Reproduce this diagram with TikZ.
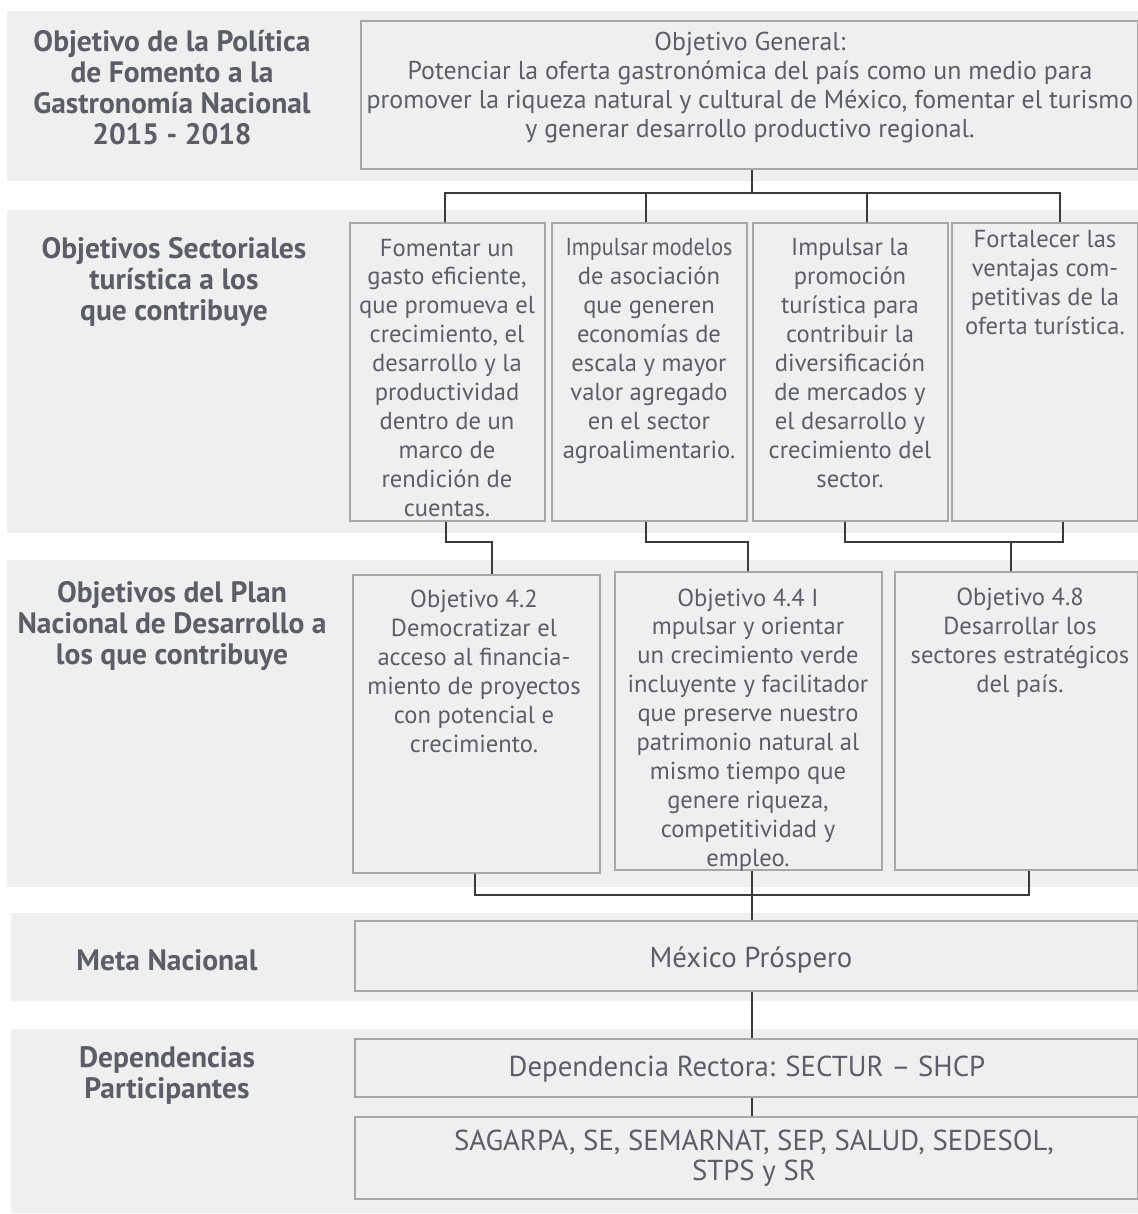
\documentclass[tikz,border=0pt]{standalone}
\usepackage{fontspec}
\setmainfont{PT Sans}
\usepackage{tikz}
\usetikzlibrary{fit}

\definecolor{bandgray}{HTML}{EFEFEF}
\definecolor{boxline}{HTML}{A8A8A8}
\definecolor{inkgray}{HTML}{5B5E66}
\definecolor{linkgray}{HTML}{3A3A3A}

\newcommand{\bodyfont}{\fontsize{14}{16.44}\selectfont}
\newcommand{\genfont}{\fontsize{14.7}{16.44}\selectfont}
\newcommand{\bigfont}{\fontsize{16.4}{17}\selectfont}
\newcommand{\headfont}{\fontsize{16.8}{17.6}\selectfont\bfseries}

\tikzset{
	band/.style={fill=bandgray, draw=none},
	box/.style={draw=boxline, fill=bandgray, line width=0.8pt, inner sep=0pt},
	body/.style={text=inkgray, font=\bodyfont, align=center, inner sep=0pt, anchor=base},
	head/.style={text=inkgray, font=\headfont, align=center, inner sep=0pt, anchor=base},
	link/.style={draw=linkgray, line width=1.1pt},
	thinlink/.style={draw=linkgray, line width=0.7pt}
}

\begin{document}
\begin{tikzpicture}[x=0.02cm, y=-0.02cm]
	\useasboundingbox (0,0) rectangle (1138,1214);

	% Background bands
	\fill[band] (7,11) rectangle (1138,181);
	\fill[band] (7,210) rectangle (1138,533);
	\fill[band] (7,560) rectangle (1138,887);
	\fill[band] (11,913) rectangle (1138,1001);
	\fill[band] (11,1029) rectangle (1138,1213);

	% Row labels (placed at the baseline of their last line)
	\node[head] (l1) at (172,144) {Objetivo de la Política\\de Fomento a la\\Gastronomía Nacional\\2015 - 2018};
	\node[head] (l2) at (174,320) {Objetivos Sectoriales\\turística a los\\que contribuye};
	\node[head] (l3) at (172,664) {Objetivos del Plan\\Nacional de Desarrollo a\\los que contribuye};
	\node[head] (l4) at (167,970) {Meta Nacional};
	\node[head] (l5) at (167,1098) {Dependencias\\Participantes};

	% Objetivo general
	\node[box, fit={(361,21) (1138,169)}] (gen) {};
	\node[body, font=\genfont] (gent) at (750,137) {Objetivo General:\\Potenciar la oferta gastronómica del país como un medio para\\promover la riqueza natural y cultural de México, fomentar el turismo\\y generar desarrollo productivo regional.};

	% Objetivos sectoriales
	\node[box, fit={(350,223) (545,521)}] (s1) {};
	\node[box, fit={(552,223) (747,521)}] (s2) {};
	\node[box, fit={(753,223) (948,521)}] (s3) {};
	\node[box, fit={(952,223) (1138,521)}] (s4) {};
	\node[body] (s1t) at (447,516) {Fomentar un\\gasto eficiente,\\que promueva el\\crecimiento, el\\desarrollo y la\\productividad\\dentro de un\\marco de\\rendición de\\cuentas.};
	\node[body] (s2t) at (649,458) {{\addfontfeature{FakeStretch=0.9}Impulsar\hspace{0.15em}modelos}\\de asociación\\que generen\\economías de\\escala y mayor\\valor agregado\\en el sector\\agroalimentario.};
	\node[body] (s3t) at (850,487) {Impulsar la\\promoción\\turística para\\contribuir la\\diversificación\\de mercados y\\el desarrollo y\\crecimiento del\\sector.};
	\node[body] (s4t) at (1045,334) {Fortalecer las\\ventajas com-\\petitivas de la\\oferta turística.};

	% Objetivos del PND
	\node[box, fit={(353,575) (600,873)}] (p1) {};
	\node[box, fit={(615,572) (882,870)}] (p2) {};
	\node[box, fit={(895,572) (1138,870)}] (p3) {};
	\node[body] (p1t) at (474,752) {Objetivo 4.2\\Democratizar el\\acceso al financia-\\miento de proyectos\\con potencial e\\crecimiento.};
	\node[body] (p2t) at (748,866) {Objetivo 4.4 I\\mpulsar y orientar\\un crecimiento verde\\incluyente y facilitador\\que preserve nuestro\\patrimonio natural al\\mismo tiempo que\\genere riqueza,\\competitividad y\\empleo.};
	\node[body] (p3t) at (1020,692) {Objetivo 4.8\\Desarrollar los\\sectores estratégicos\\del país.};

	% Meta y dependencias
	\node[box, fit={(355,921) (1138,991)}] (meta) {};
	\node[body, font=\bigfont] (metat) at (751,967) {México Próspero};
	\node[box, fit={(355,1039) (1138,1097)}] (rect) {};
	\node[body, font=\bigfont] (rectt) at (747,1076) {Dependencia Rectora: SECTUR – SHCP};
	\node[box, fit={(355,1117) (1138,1199)}] (deps) {};
	\node[body, font=\bigfont] (depst) at (754,1180) {SAGARPA, SE, SEMARNAT, SEP, SALUD, SEDESOL,\\STPS y SR};

	% Connectors: general -> sectoriales
	\coordinate (jg) at (752,193);
	\coordinate (j1) at (445,193);
	\coordinate (j2) at (646,193);
	\coordinate (j3) at (867,193);
	\coordinate (j4) at (1060,193);
	\draw[link] (gen.south -| jg) -- (jg);
	\draw[link] (s1.north -| j1) |- (j4) -- (s4.north -| j4);
	\draw[link] (j2) -- (s2.north -| j2);
	\draw[link] (j3) -- (s3.north -| j3);

	% Connectors: sectoriales -> PND
	\coordinate (k1) at (446,542);
	\coordinate (k2) at (492,542);
	\coordinate (k3) at (646,542);
	\coordinate (k4) at (748,542);
	\coordinate (k5) at (845,542);
	\coordinate (k6) at (1063,542);
	\coordinate (k7) at (1011,542);
	\draw[link] (s1.south -| k1) -- (k1) -- (k2) -- (p1.north -| k2);
	\draw[link] (s2.south -| k3) -- (k3) -- (k4) -- (p2.north -| k4);
	\draw[link] (s3.south -| k5) -- (k5) -- (k6) -- (s4.south -| k6);
	\draw[link] (k7) -- (p3.north -| k7);

	% Connectors: PND -> meta -> dependencias
	\coordinate (m0) at (752,895);
	\coordinate (m1) at (475,895);
	\coordinate (m2) at (1029,895);
	\draw[link] (p1.south -| m1) -- (m1) -- (m2) -- (p3.south -| m2);
	\draw[thinlink] (p2.south -| m0) -- (meta.north -| m0);
	\draw[thinlink] (meta.south -| m0) -- (rect.north -| m0);
	\draw[thinlink] (rect.south -| m0) -- (deps.north -| m0);

\end{tikzpicture}
\end{document}
